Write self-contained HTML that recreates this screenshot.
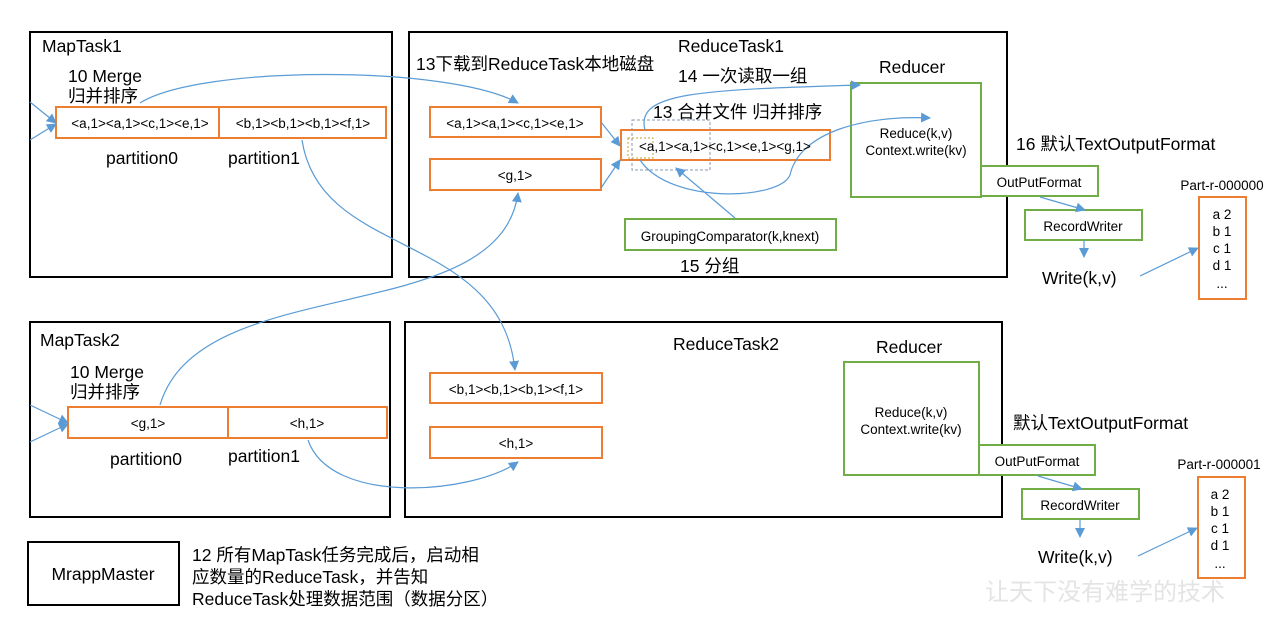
<!DOCTYPE html>
<html><head><meta charset="utf-8"><style>body{margin:0;background:#fff}svg{display:block}text{font-family:"Liberation Sans","Noto Sans CJK SC",sans-serif;fill:#000}</style></head><body>
<svg width="1281" height="639" viewBox="0 0 1281 639" xmlns="http://www.w3.org/2000/svg">
<defs><marker id="a" markerWidth="10" markerHeight="10" refX="9" refY="5" orient="auto" markerUnits="userSpaceOnUse"><path d="M0,0 L10,5 L0,10 z" fill="#5B9BD5"/></marker></defs>
<g fill="none" stroke="#000" stroke-width="2">
<rect x="30" y="32" width="362" height="245"/><rect x="409" y="32" width="598" height="245"/>
<rect x="30" y="322" width="360" height="195"/><rect x="405" y="322" width="597" height="195"/>
<rect x="28" y="542" width="151" height="63"/></g>
<g fill="#fff" stroke="#ED7D31" stroke-width="2">
<rect x="56" y="107" width="163" height="31"/><rect x="219" y="107" width="167" height="31"/>
<rect x="430" y="107" width="171" height="30"/><rect x="430" y="159" width="171" height="31"/>
<rect x="621" y="130" width="209" height="30"/>
<rect x="68" y="407" width="160" height="31"/><rect x="228" y="407" width="159" height="31"/>
<rect x="430" y="373" width="172" height="30"/><rect x="430" y="427" width="172" height="31"/>
<rect x="1199" y="197" width="47" height="102"/><rect x="1198" y="477" width="47" height="101"/></g>
<g fill="#fff" stroke="#70AD47" stroke-width="2">
<rect x="851" y="83" width="130" height="114"/><rect x="625" y="219" width="211" height="31"/>
<rect x="981" y="166" width="117" height="30"/><rect x="1025" y="210" width="117" height="30"/>
<rect x="844" y="362" width="135" height="113"/>
<rect x="979" y="445" width="116" height="30"/><rect x="1022" y="489" width="117" height="30"/></g>
<rect x="632" y="120" width="78" height="50" fill="none" stroke="#8497B0" stroke-dasharray="3,2"/>
<rect x="628" y="138" width="25" height="20" fill="none" stroke="#C9A227" stroke-dasharray="2,2"/>
<g fill="none" stroke="#5B9BD5" stroke-width="1.2" marker-end="url(#a)">
<path d="M30,102 L56,123"/><path d="M30,140 L56,124"/>
<path d="M30,405 L68,423"/><path d="M30,442 L68,424"/>
<path d="M140,103 C200,65 450,65 518,103"/>
<path d="M302,140 C320,260 500,230 515,370"/>
<path d="M160,405 C200,270 500,330 518,193"/>
<path d="M308,440 C330,505 470,495 518,462"/>
<path d="M601,122 L620,146"/><path d="M601,188 L620,160"/>
<path d="M645,130 C635,92 700,90 860,85"/>
<path d="M640,160 C670,205 780,200 790,175 C800,130 870,115 930,118"/>
<path d="M735,218 L676,168"/>
<path d="M1040,197 L1085,210"/><path d="M1084,240 L1084,257"/><path d="M1140,276 L1198,248"/>
<path d="M1038,476 L1082,489"/><path d="M1080,519 L1080,537"/><path d="M1138,556 L1197,528"/>
</g>
<g font-size="17.5">
<text x="42" y="52">MapTask1</text><text x="68" y="82">10 Merge</text><text x="68" y="102">归并排序</text>
<text x="106" y="164">partition0</text><text x="228" y="164">partition1</text>
<text x="678" y="52">ReduceTask1</text><text x="416" y="70">13下载到ReduceTask本地磁盘</text>
<text x="678" y="82">14 一次读取一组</text><text x="653" y="118">13 合并文件 归并排序</text>
<text x="879" y="73">Reducer</text><text x="680" y="272">15 分组</text>
<text x="1016" y="150">16 默认TextOutputFormat</text><text x="1042" y="284">Write(k,v)</text>
<text x="40" y="346">MapTask2</text><text x="70" y="378">10 Merge</text><text x="70" y="398">归并排序</text>
<text x="110" y="465">partition0</text><text x="228" y="462">partition1</text>
<text x="673" y="350">ReduceTask2</text><text x="876" y="353">Reducer</text>
<text x="1013" y="429">默认TextOutputFormat</text><text x="1038" y="563">Write(k,v)</text>
<text x="192" y="561">12 所有MapTask任务完成后，启动相</text><text x="192" y="583">应数量的ReduceTask，并告知</text><text x="192" y="605">ReduceTask处理数据范围（数据分区）</text>
<text x="103" y="580" text-anchor="middle">MrappMaster</text>
</g>
<g font-size="13.5" text-anchor="middle">
<text x="140" y="128">&lt;a,1&gt;&lt;a,1&gt;&lt;c,1&gt;&lt;e,1&gt;</text><text x="303" y="128">&lt;b,1&gt;&lt;b,1&gt;&lt;b,1&gt;&lt;f,1&gt;</text>
<text x="515" y="128">&lt;a,1&gt;&lt;a,1&gt;&lt;c,1&gt;&lt;e,1&gt;</text><text x="515" y="180">&lt;g,1&gt;</text>
<text x="725" y="151">&lt;a,1&gt;&lt;a,1&gt;&lt;c,1&gt;&lt;e,1&gt;&lt;g,1&gt;</text>
<text x="916" y="138">Reduce(k,v)</text><text x="916" y="155">Context.write(kv)</text>
<text x="730" y="241">GroupingComparator(k,knext)</text>
<text x="1039" y="187">OutPutFormat</text><text x="1083" y="231">RecordWriter</text>
<text x="1222" y="190">Part-r-000000</text>
<text x="1222" y="219">a 2</text><text x="1222" y="236">b 1</text><text x="1222" y="253">c 1</text><text x="1222" y="270">d 1</text><text x="1222" y="288">...</text>
<text x="148" y="428">&lt;g,1&gt;</text><text x="307" y="428">&lt;h,1&gt;</text>
<text x="516" y="394">&lt;b,1&gt;&lt;b,1&gt;&lt;b,1&gt;&lt;f,1&gt;</text><text x="516" y="448">&lt;h,1&gt;</text>
<text x="911" y="417">Reduce(k,v)</text><text x="911" y="434">Context.write(kv)</text>
<text x="1037" y="466">OutPutFormat</text><text x="1080" y="510">RecordWriter</text>
<text x="1219" y="469">Part-r-000001</text>
<text x="1220" y="499">a 2</text><text x="1220" y="516">b 1</text><text x="1220" y="533">c 1</text><text x="1220" y="550">d 1</text><text x="1220" y="568">...</text>
</g>
<text x="1105" y="600" font-size="24" style="fill:#e4e4e4" text-anchor="middle">让天下没有难学的技术</text>
</svg></body></html>
